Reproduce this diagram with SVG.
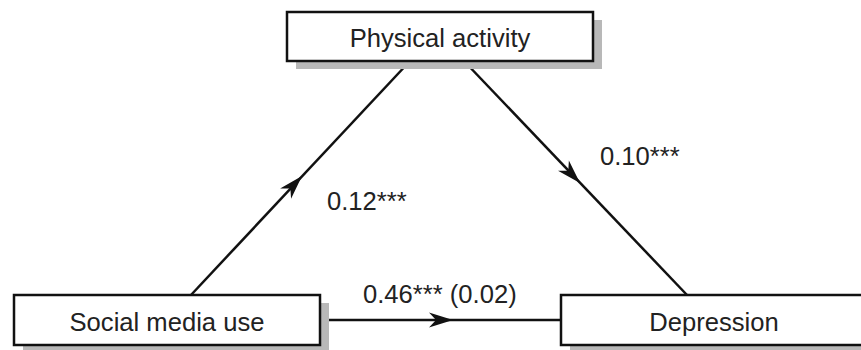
<svg xmlns="http://www.w3.org/2000/svg" width="861" height="350" viewBox="0 0 861 350">
<style>
.box{fill:#fff;stroke:#111;stroke-width:2.5}
.shadow{fill:#b8b8b8}
.lbl{font-family:"Liberation Sans",Arial,sans-serif;font-size:25.6px;fill:#222}
.ctr{text-anchor:middle}
.edge{stroke:#111;stroke-width:2.5;fill:none}
.head{fill:#111}
</style>
<defs>
<path id="ah" d="M0,0 L-24,-7.5 L-17,0 L-24,7.5 Z"/>
</defs>
<rect width="861" height="350" fill="#fff"/>
<g id="connectors">
<line class="edge" x1="191" y1="295" x2="410" y2="61"/>
<line class="edge" x1="464" y1="61" x2="687" y2="295"/>
<line class="edge" x1="320" y1="320" x2="561" y2="320"/>
<use href="#ah" class="head" transform="translate(302,176) rotate(-46.9)"/>
<use href="#ah" class="head" transform="translate(580,183) rotate(46.4)"/>
<use href="#ah" class="head" transform="translate(453,320)"/>
<text class="lbl" x="327" y="210">0.12***</text>
<text class="lbl" x="600" y="165">0.10***</text>
<text class="lbl" x="363" y="303">0.46*** (0.02)</text>
</g>
<g id="physical-activity">
<rect class="shadow" x="296" y="20" width="306" height="49"/>
<rect class="box" x="287" y="12" width="306" height="49"/>
<text class="lbl ctr" x="440" y="47">Physical activity</text>
</g>
<g id="social-media-use">
<rect class="shadow" x="23" y="303" width="306" height="50"/>
<rect class="box" x="14" y="295" width="306" height="50"/>
<text class="lbl ctr" x="167" y="331">Social media use</text>
</g>
<g id="depression">
<rect class="shadow" x="570" y="303" width="306" height="50"/>
<rect class="box" x="561" y="295" width="306" height="50"/>
<text class="lbl ctr" x="714" y="331">Depression</text>
</g>
</svg>
